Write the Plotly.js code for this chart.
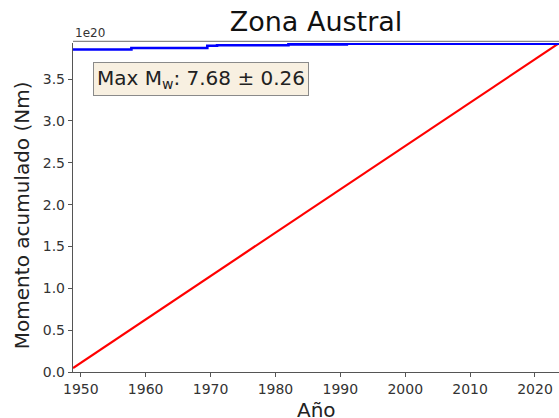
<!DOCTYPE html>
<html>
<head>
<meta charset="utf-8">
<script src="https://cdn.plot.ly/plotly-3.0.1.min.js"></script>
<style>html,body{margin:0;padding:0;background:#fff;}#chart{width:559px;height:418px;}</style>
</head>
<body>
<div id="chart"></div>
<script>
// Data (moment in units of 1e20 Nm)
const blueYears = [1948.8, 1957.8, 1969.5, 1971.0, 1982.0, 1991.0, 2024.0];
const blueMoment = [3.855, 3.872, 3.900, 3.906, 3.915, 3.925, 3.930];
const redYears = [1948.8, 2024.0];
const redMoment = [0.048, 3.945];
const xTicks = [1950, 1960, 1970, 1980, 1990, 2000, 2010, 2020];
const yTicks = [0.0, 0.5, 1.0, 1.5, 2.0, 2.5, 3.0, 3.5];
const titleText = "Zona Austral";
const xLabel = "Año";
const yLabel = "Momento acumulado (Nm)";
const boxText = "Max M<sub>w</sub>: 7.68 ± 0.26";

const font = "DejaVu Sans, sans-serif";
const plotW = 486, plotH = 328.7, plotLeft = 73, plotTop = 43;
const traces = [
  {x: redYears, y: redMoment, mode: "lines", line: {color: "#ff0000", width: 2.2}, hoverinfo: "skip"},
  {x: blueYears, y: blueMoment, mode: "lines", line: {color: "#0000ff", width: 2.6, shape: "hv"}, hoverinfo: "skip"}
];
const layout = {
  width: 559, height: 418,
  margin: {l: 73, r: 0, t: 43, b: 46, pad: 0},
  paper_bgcolor: "#fff", plot_bgcolor: "#fff",
  showlegend: false,
  font: {family: font, color: "#333", size: 14},
  title: {text: titleText, font: {family: font, size: 27, color: "#111"}, x: 0.5, xref: "paper", y: 1 - 22/418, yref: "container", yanchor: "middle"},
  xaxis: {
    range: [1948.8, 2023.7], tickvals: xTicks, ticktext: xTicks.map(String),
    showgrid: false, zeroline: false, showline: true, linecolor: "#555", linewidth: 1.2,
    ticks: "outside", ticklen: 4, tickcolor: "#555", tickfont: {size: 14, color: "#333"}
  },
  yaxis: {
    range: [0, 3.932], tickvals: yTicks, ticktext: yTicks.map(v => v.toFixed(1)),
    showgrid: false, zeroline: false, showline: true, linecolor: "#555", linewidth: 1.2,
    ticks: "outside", ticklen: 4, tickcolor: "#555", tickfont: {size: 14, color: "#333"}
  },
  shapes: [
    {type: "line", xref: "paper", yref: "paper", x0: 0, x1: 1, y0: 1.005, y1: 1.005, line: {color: "#888", width: 1.2}}
  ],
  annotations: [
    {text: "1e20", xref: "paper", yref: "paper", x: 0, y: 1, xanchor: "left", yanchor: "bottom", yshift: 1, showarrow: false, font: {size: 12, color: "#333"}},
    {text: boxText, xref: "paper", yref: "paper", x: (93 - plotLeft) / plotW, y: 1 - (62 - plotTop) / plotH, xanchor: "left", yanchor: "top", showarrow: false,
     font: {size: 20, color: "#222"}, bgcolor: "#f8f0e1", bordercolor: "#8a8a8a", borderwidth: 1, borderpad: 3},
    {text: xLabel, xref: "paper", yref: "paper", x: 0.5, y: -(410 - (plotTop + plotH)) / plotH, xanchor: "center", yanchor: "middle", showarrow: false, font: {size: 20, color: "#222"}},
    {text: yLabel, xref: "paper", yref: "paper", x: (22 - plotLeft) / plotW, y: 1 - (215 - plotTop) / plotH, xanchor: "center", yanchor: "middle", textangle: -90, showarrow: false, font: {size: 20, color: "#222"}}
  ]
};
Plotly.newPlot("chart", traces, layout, {staticPlot: true, displayModeBar: false});
</script>
</body>
</html>
